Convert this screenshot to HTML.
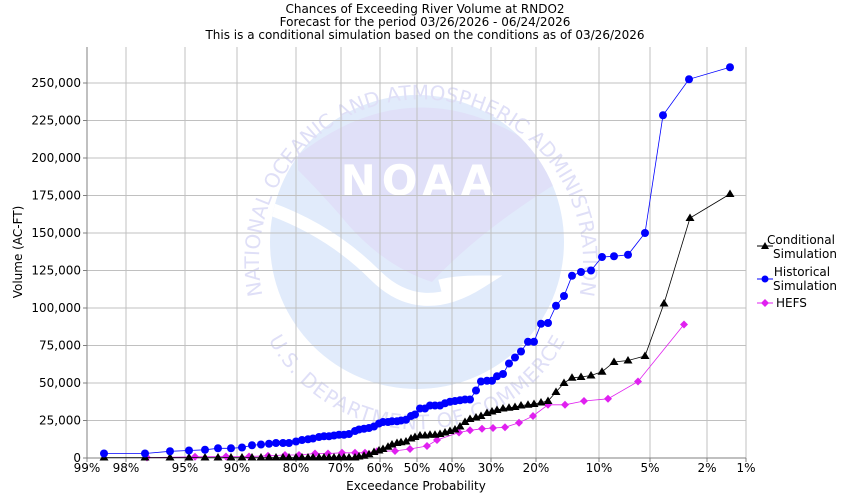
<!DOCTYPE html>
<html><head><meta charset="utf-8"><style>
html,body{margin:0;padding:0;background:#fff;}
svg{display:block;font-family:"DejaVu Sans","Liberation Sans",sans-serif;}
</style></head><body>
<svg id="s" width="850" height="500" viewBox="0 0 850 500" xmlns="http://www.w3.org/2000/svg">
<defs>
<clipPath id="cc"><circle cx="417" cy="242" r="147"/></clipPath>
<path id="ringTop" d="M 270,320 A 162,162 0 1 1 572,320"/>
<path id="ringBot" d="M 266,335 A 168,168 0 0 0 568,335"/>
</defs>
<g id="wm">
<circle cx="417" cy="242" r="147" fill="#e1ebfb"/>
<g clip-path="url(#cc)">
<path d="M 298,155 Q 420,60 548,155 L 565,178 Q 480,230 432,282 Q 380,265 340,215 Q 318,190 298,170 Z" fill="#e0e0f8"/>
<path d="M 268,208 Q 330,230 375,275 Q 420,320 480,282 Q 455,282 440,286" fill="none" stroke="#fff" stroke-width="13"/>
</g>
<text x="420" y="195" text-anchor="middle" font-size="42" font-weight="bold" fill="#fff" letter-spacing="6">NOAA</text>
<text font-size="20" fill="#dfdff7"><textPath href="#ringTop" startOffset="50%" text-anchor="middle">NATIONAL OCEANIC AND ATMOSPHERIC ADMINISTRATION</textPath></text>
<text font-size="20" fill="#dfdff7" letter-spacing="1"><textPath href="#ringBot" startOffset="50%" text-anchor="middle">U.S. DEPARTMENT OF COMMERCE</textPath></text>
</g>
<g id="grid" stroke="#c0c0c0" stroke-width="1"></g>
<g id="series"></g>
<g font-size="12" fill="#000">
<text x="425" y="13" text-anchor="middle">Chances of Exceeding River Volume at RNDO2</text>
<text x="425" y="26" text-anchor="middle">Forecast for the period 03/26/2026 - 06/24/2026</text>
<text x="425" y="39" text-anchor="middle">This is a conditional simulation based on the conditions as of 03/26/2026</text>
<text x="416" y="490" text-anchor="middle">Exceedance Probability</text>
<text transform="translate(22,252) rotate(-90)" text-anchor="middle">Volume (AC-FT)</text>
</g>
<g id="lab" font-size="12"></g>
<g id="leg" font-size="12">
<line x1="757" y1="246" x2="773" y2="246" stroke="#000"/><polygon points="765,242 769,249 761,249" fill="#000"/>
<text x="801" y="244" text-anchor="middle">Conditional</text><text x="805" y="258" text-anchor="middle">Simulation</text>
<line x1="757" y1="279" x2="773" y2="279" stroke="#00f"/><circle cx="765" cy="279" r="3.5" fill="#00f"/>
<text x="802" y="276" text-anchor="middle">Historical</text><text x="805" y="290" text-anchor="middle">Simulation</text>
<line x1="757" y1="303" x2="773" y2="303" stroke="#e020f0"/><polygon points="765,299 769,303 765,307 761,303" fill="#e020f0"/>
<text x="776" y="307">HEFS</text>
</g>
</svg>
<script>
var NS="http://www.w3.org/2000/svg";
function el(p,t,a,txt){var e=document.createElementNS(NS,t);for(var k in a)e.setAttribute(k,a[k]);if(txt!=null)e.textContent=txt;p.appendChild(e);return e;}
var L=87,R=746,T=47,B=458;
var g=document.getElementById('grid'),lab=document.getElementById('lab'),S=document.getElementById('series');
function Y(v){return B-v*1.5/1000;}
var xs=[[87,'99%'],[126,'98%'],[185,'95%'],[237,'90%'],[296,'80%'],[341,'70%'],[380,'60%'],[417,'50%'],[452,'40%'],[491,'30%'],[536,'20%'],[599,'10%'],[650,'5%'],[707,'2%'],[746,'1%']];
xs.forEach(function(a){el(g,'line',{x1:a[0],y1:T,x2:a[0],y2:B});el(g,'line',{x1:a[0],y1:B,x2:a[0],y2:B+4,stroke:'#808080'});el(lab,'text',{x:a[0],y:472,'text-anchor':'middle'},a[1]);});
for(var v=0;v<=250000;v+=25000){var y=Y(v);el(g,'line',{x1:L,y1:y,x2:R,y2:y});el(g,'line',{x1:L-4,y1:y,x2:L,y2:y,stroke:'#808080'});el(lab,'text',{x:L-6,y:y+4,'text-anchor':'end'},v==0?'0':v.toLocaleString('en-US'));}
el(g,'line',{x1:L,y1:T,x2:L,y2:B,stroke:'#808080'});el(g,'line',{x1:L,y1:B,x2:R,y2:B,stroke:'#808080'});
var H=[[104,3],[145,3],[170,4.5],[189,5],[205,5.5],[218,6.5],[231,6.5],[242,7],[252,8.5],[261,9],[269,9.5],[276,10],[283,10],[289,10],[296,11],[302,12],[308,12.5],[313,13],[319,14],[324,14.5],[329,14.5],[334,15],[339,15.5],[344,15.5],[349,16],[355,18],[359,19],[364,19.5],[369,20],[374,21],[379,23],[383,24],[388,24],[392,24.5],[397,24.5],[401,25],[406,25.5],[411,28],[415,29],[420,33],[425,33],[430,35],[435,35],[440,35],[445,36.5],[450,37.5],[455,38],[460,38.5],[465,39],[470,39],[476,45],[481,51],[487,51.5],[492,51.5],[497,54.5],[503,56],[509,63],[515,67],[521,71],[528,77.5],[534,77.5],[541,89.5],[548,90],[556,101.5],[564,108],[572,121.5],[581,124],[591,125],[602,134],[614,134.5],[628,135.5],[645,150],[663,228.5],[689,252.5],[730,260.5]];
var C=[];[104,145,170,189,205,218,231,242,252,261,269,276,283,289,296,302,308,313,319,324,329,334,339,344,349,355].forEach(function(x){C.push([x,0.3]);});
C=C.concat([[359,1],[364,1.5],[369,2.5],[374,4],[379,5],[383,6],[388,7.5],[392,9],[397,10],[401,10.5],[406,11],[411,13],[415,14],[420,15],[425,15],[430,15.5],[435,15.5],[440,16],[445,17],[450,18],[455,19],[460,21],[465,24],[470,26],[476,27],[481,28],[487,30],[492,31],[497,32],[503,33],[509,33.5],[515,34],[521,35],[528,35.5],[534,36],[541,37],[548,38],[556,44],[564,50],[572,53.5],[581,54],[591,55],[602,57.5],[614,64],[628,65],[645,68],[664,103],[690,160],[730,176]]);
var E=[[147,0.3],[195,0.8],[226,1],[249,1],[268,1.5],[285,2],[299,2],[315,3],[328,3],[342,3.5],[355,3.5],[365,3.5],[377,4.5],[395,4.7],[410,6],[427,8],[437,12],[459,17],[470,18.5],[482,19.5],[493,20],[505,20.5],[519,23.5],[533,28],[548,35.5],[565,35.5],[584,38],[608,39.5],[638,51],[684,89]];
function pts(a){return a.map(function(p){return p[0]+','+Y(p[1]*1000).toFixed(1)}).join(' ');}
el(S,'polyline',{points:pts(E),fill:'none',stroke:'#e020f0','stroke-width':0.8});
E.forEach(function(p){var x=p[0],y=Y(p[1]*1000);el(S,'polygon',{points:x+','+(y-4)+' '+(x+4)+','+y+' '+x+','+(y+4)+' '+(x-4)+','+y,fill:'#e020f0'});});
el(S,'polyline',{points:pts(C),fill:'none',stroke:'#000','stroke-width':0.8});
C.forEach(function(p){var x=p[0],y=Y(p[1]*1000);el(S,'polygon',{points:x+','+(y-4.5)+' '+(x+4.5)+','+(y+3)+' '+(x-4.5)+','+(y+3),fill:'#000'});});
el(S,'polyline',{points:pts(H),fill:'none',stroke:'#0000ff','stroke-width':0.8});
H.forEach(function(p){el(S,'circle',{cx:p[0],cy:Y(p[1]*1000),r:4,fill:'#0000ff'});});
</script>
</body></html>
